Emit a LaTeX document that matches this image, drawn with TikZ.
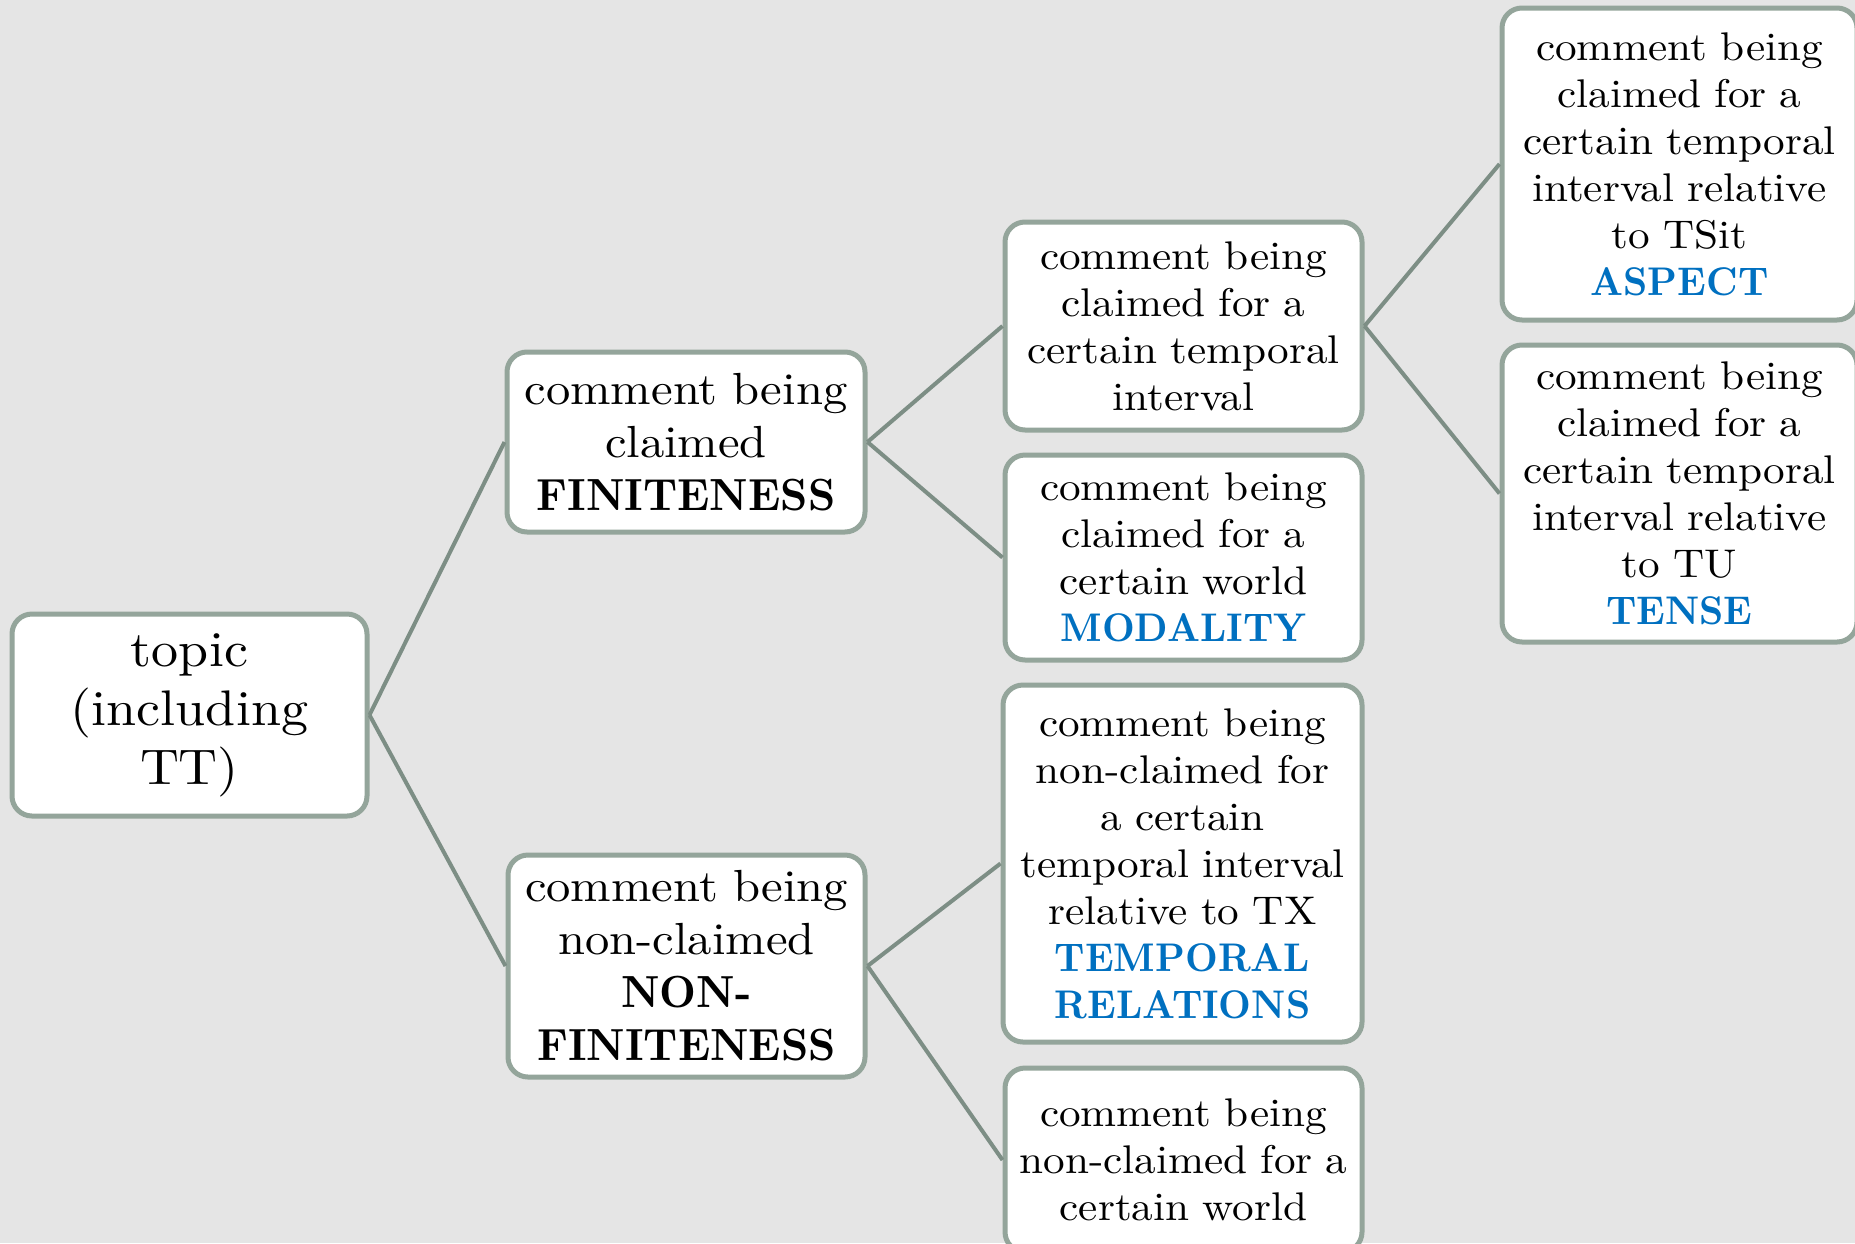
\documentclass[tikz,border=0pt]{standalone}
\usepackage{fontspec}
\setmainfont{lmroman10}[Extension=.otf, UprightFont=*-regular, BoldFont=*-bold,
  UprightFeatures={FakeStretch=1.08}, BoldFeatures={FakeStretch=0.95}]
\definecolor{bg}{RGB}{229,229,229}
\definecolor{boxline}{RGB}{148,165,155}
\definecolor{conn}{RGB}{125,142,133}
\definecolor{hl}{RGB}{0,112,192}
\tikzset{
  box/.style={draw=boxline, line width=5pt, fill=white, rounded corners=20pt,
    inner sep=0pt, align=center, text width=#1-10pt, minimum width=#1},
  link/.style={draw=conn, line width=4pt},
  sm/.style={font=\fontsize{40}{47}\selectfont},
  md/.style={font=\fontsize{45}{53}\selectfont},
  lg/.style={font=\fontsize{50}{59}\selectfont},
}
\newcommand{\hlt}[1]{\textcolor{hl}{\textbf{#1}}}
\begin{document}
\begin{tikzpicture}[x=1pt,y=-1pt]
  \useasboundingbox (0,0) rectangle (1855,1243);
  \clip (0,0) rectangle (1855,1243);
  \fill[bg] (0,0) rectangle (1855,1243);

  \node[box=355pt, lg, minimum height=202pt] (topic) at (189.5,715)
    {topic\\(including\\TT)};
  \node[box=358pt, md, minimum height=180pt] (fin) at (686,442)
    {comment being\\claimed\\\textbf{FINITENESS}};
  \node[box=357pt, md, minimum height=222pt] (nonfin) at (686.5,966)
    {comment being\\non-claimed\\\textbf{NON-}\\\textbf{FINITENESS}};
  \node[box=357pt, sm, minimum height=208pt] (tint) at (1183.5,326)
    {comment being\\claimed for a\\certain temporal\\interval};
  \node[box=357pt, sm, minimum height=205pt] (modal) at (1183.5,557.5)
    {comment being\\claimed for a\\certain world\\\hlt{MODALITY}};
  \node[box=359pt, sm, minimum height=357pt] (temprel) at (1182.5,863.5)
    {comment being\\non-claimed for\\a certain\\temporal interval\\relative to TX\\\hlt{TEMPORAL}\\\hlt{RELATIONS}};
  \node[box=357pt, sm, minimum height=184pt] (nworld) at (1183.5,1160)
    {comment being\\non-claimed for a\\certain world};
  \node[box=355pt, sm, minimum height=312pt] (aspect) at (1679.5,164)
    {comment being\\claimed for a\\certain temporal\\interval relative\\to TSit\\\hlt{ASPECT}};
  \node[box=355pt, sm, minimum height=297pt] (tense) at (1679.5,493.5)
    {comment being\\claimed for a\\certain temporal\\interval relative\\to TU\\\hlt{TENSE}};

  \draw[link] (topic.east) -- (fin.west);
  \draw[link] (topic.east) -- (nonfin.west);
  \draw[link] (fin.east) -- (tint.west);
  \draw[link] (fin.east) -- (modal.west);
  \draw[link] (tint.east) -- (aspect.west);
  \draw[link] (tint.east) -- (tense.west);
  \draw[link] (nonfin.east) -- (temprel.west);
  \draw[link] (nonfin.east) -- (nworld.west);
\end{tikzpicture}
\end{document}
